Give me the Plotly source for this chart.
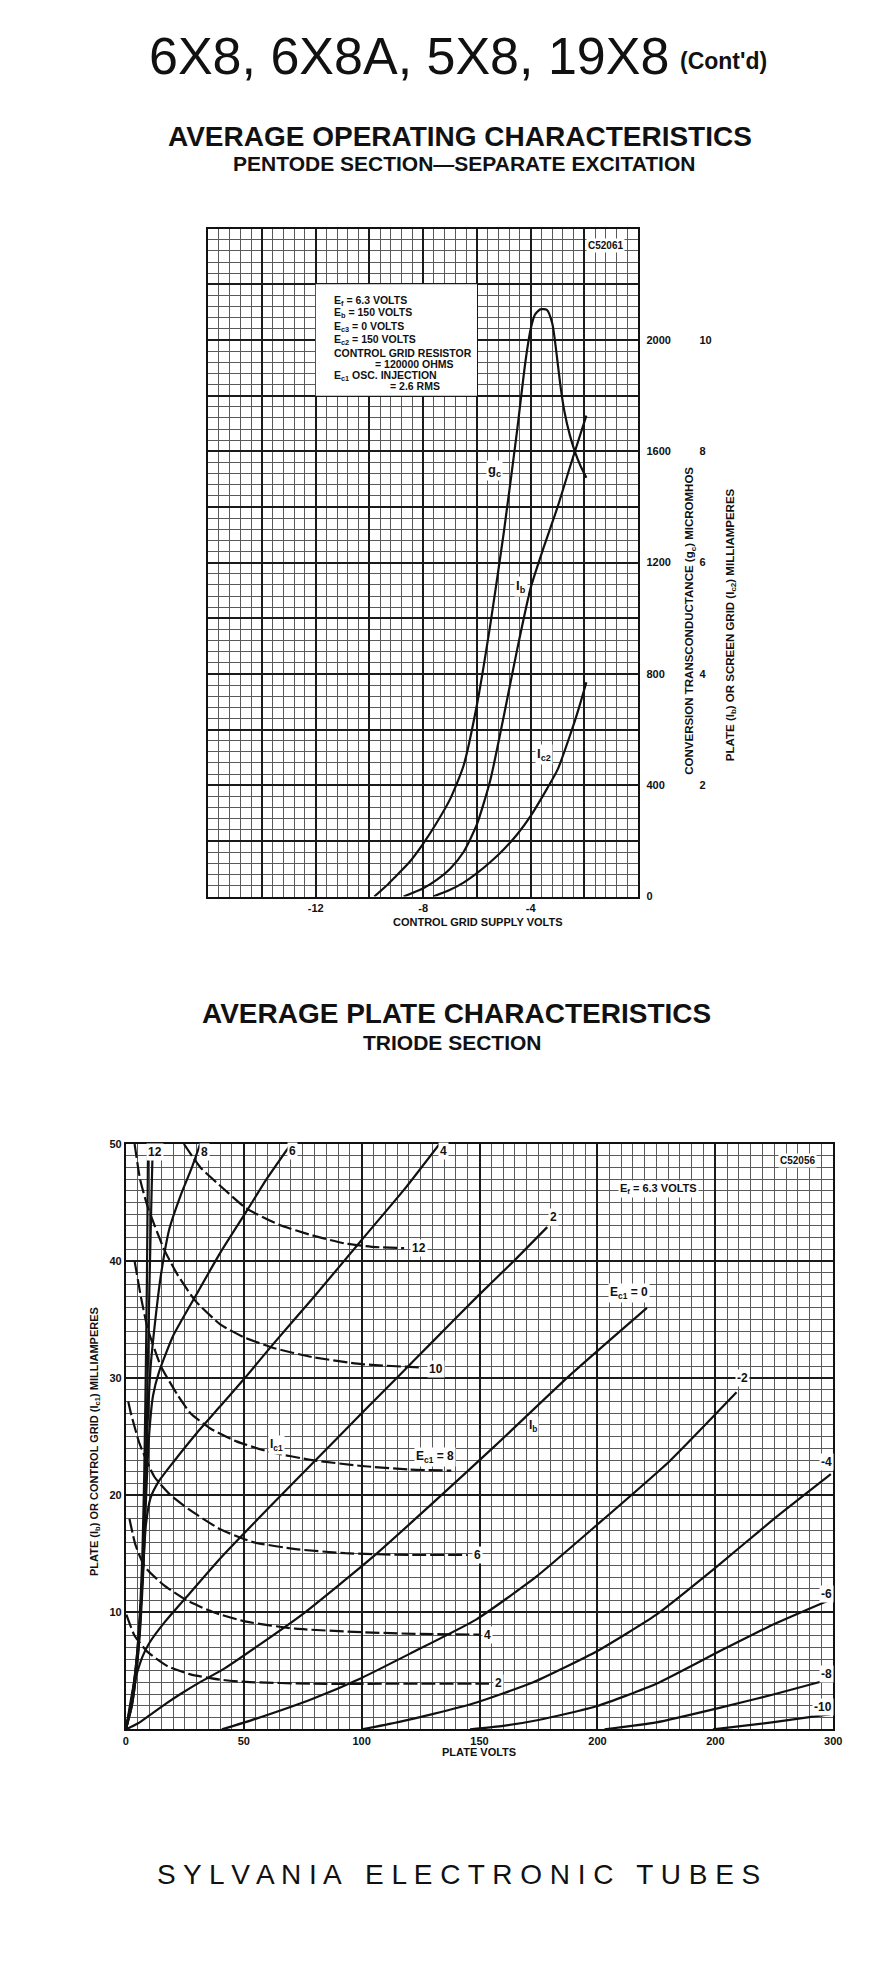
import plotly.graph_objects as go

# the page body keeps its default 8px margin, so the figure is 16px smaller
# than the window and page positions are shifted by that margin
PAGE_W, PAGE_H, PAD = 886, 1968, 8
W, H = PAGE_W - 2 * PAD, PAGE_H - 2 * PAD
SANS = "Liberation Sans, Arial, sans-serif"

# ---- pentode section: values ----
# conversion transconductance (micromhos) vs control grid supply volts
gc_volts = [-9.82, -9.3, -9.0, -8.5, -8.0, -7.5, -7.0, -6.5, -6.0, -5.5, -5.0, -4.5,
            -4.2, -4.0, -3.85, -3.65, -3.4, -3.2, -3.05, -2.9, -2.75, -2.55, -2.36,
            -2.15, -1.93]
gc_umhos = [0, 45, 75, 125, 190, 265, 350, 470, 690, 980, 1310, 1680,
            1920, 2040, 2090, 2110, 2108, 2060, 1960, 1840, 1745, 1660, 1600,
            1548, 1505]
# plate current (mA)
ib_volts = [-8.73, -8.0, -7.5, -7.0, -6.5, -6.0, -5.5, -5.0, -4.5, -4.0, -3.5, -3.0,
            -2.5, -1.93]
ib_ma = [0, 0.15, 0.3, 0.5, 0.8, 1.3, 2.1, 3.25, 4.45, 5.55, 6.3, 7.0, 7.78, 8.64]
# screen grid current (mA)
ic2_volts = [-7.63, -7.0, -6.5, -6.0, -5.5, -5.0, -4.5, -4.0, -3.5, -3.0, -2.5, -2.2,
             -1.93]
ic2_ma = [0, 0.12, 0.25, 0.42, 0.62, 0.85, 1.12, 1.45, 1.85, 2.28, 2.95, 3.4, 3.85]

# grid lines every 2 V / 200 micromhos, only some of them carry a label
grid_volts_ticks = [-16, -14, -12, -10, -8, -6, -4, -2, 0]
grid_volts_text = ["", "", "-12", "", "-8", "", "-4", "", ""]
gc_ticks = [0, 200, 400, 600, 800, 1000, 1200, 1400, 1600, 1800, 2000, 2200, 2400]
gc_text = ["0", "", "400", "", "800", "", "1200", "", "1600", "", "2000", "", ""]
ma_ticks = [2, 4, 6, 8, 10]
ma_text = ["2", "4", "6", "8", "10"]

# ---- triode section: (plate volts, mA) ----
# plate current, one list per control grid voltage
ib_p12 = [(0, 0), (2, 2), (3.5, 4), (5, 7), (6.2, 11), (7, 15), (7.8, 22), (8.4, 30),
          (8.9, 38), (9.2, 45), (9.4, 50)]
ib_p10 = [(0, 0), (2, 2), (3.5, 4), (5.2, 7), (6.5, 11), (7.5, 15), (8.4, 22), (9.2, 30),
          (10, 38), (10.8, 45), (11.4, 50)]
ib_p8 = [(0, 0), (2.5, 2), (4.5, 5), (6, 9), (7.2, 14), (8.2, 20), (9.2, 26), (10.5, 31),
         (12.5, 35), (15, 39), (18.5, 42.8), (23.2, 45.6), (28, 48), (31.5, 50)]
ib_p6 = [(0, 0), (2.5, 2), (4.5, 5), (6.2, 9), (7.5, 14), (8.6, 20), (9.8, 25),
         (11.5, 28.5), (14, 30.5), (20, 33.6), (29.5, 37), (40, 40.7), (51, 44.2),
         (60, 47.1), (70, 50)]
ib_p4 = [(0, 0), (2, 2), (4, 5), (5.8, 9), (7.2, 13.5), (8.5, 17.5), (10.5, 19.8),
         (14, 21.2), (20, 22.8), (30, 25.3), (40, 27.6), (50, 29.9), (62, 32.8),
         (80, 37), (100, 41.8), (118, 46.1), (133, 50)]
ib_p2 = [(0, 0), (1.5, 1.8), (3, 3.5), (4.4, 4.6), (7, 6.2), (10, 7.4), (16.2, 9.1),
         (27.4, 11.7), (40, 14.6), (60, 18.8), (80, 22.9), (100, 27), (115.3, 30.1),
         (130, 33.1), (148.7, 36.9), (165, 40.1), (178.7, 42.9)]
ib_0 = [(0, 0), (5, 0.5), (10, 1.2), (17, 2.2), (23, 3.0), (32, 4.1), (41, 5.1),
        (55, 7.0), (76, 10.0), (104, 14.6), (130, 19.3), (157, 24.3), (187, 30.0),
        (205, 33.2), (221, 36.0)]
ib_m2 = [(40.7, 0), (55, 0.9), (79, 2.6), (100, 4.4), (120.8, 6.5), (148.7, 9.4),
         (173.8, 13.0), (200, 17.5), (230, 22.8), (259, 28.8)]
ib_m4 = [(100, 0), (115, 0.6), (130, 1.3), (148.7, 2.3), (172.5, 4.0), (200, 6.7),
         (225, 9.8), (250, 13.8), (275, 18.0), (299, 21.8)]
ib_m6 = [(146, 0), (160, 0.3), (175, 0.8), (200, 2.0), (225, 3.9), (253, 6.8),
         (275, 9.0), (299, 11.1)]
ib_m8 = [(203, 0), (225, 0.6), (253, 1.9), (275, 3.0), (299, 4.3)]
ib_m10 = [(249, 0), (274, 0.6), (299, 1.3)]

# control grid current, one list per control grid voltage
ic1_p12 = [(24.6, 50), (31.6, 48), (41.3, 46.2), (51.1, 44.5), (65, 43.1), (79, 42.2),
           (93, 41.5), (106, 41.2), (118, 41.1)]
ic1_p10 = [(3.7, 50), (6, 47), (9.3, 44.6), (16.2, 41), (22, 38.8), (29.5, 36.6),
           (40, 34.6), (50, 33.5), (62.3, 32.6), (79, 31.8), (100, 31.2), (126, 30.9)]
ic1_p8 = [(3.7, 40), (6.5, 36.8), (9.3, 34.2), (14.9, 31.0), (21.8, 28.6), (27.4, 27.0),
          (35.8, 25.7), (46.9, 24.6), (60.9, 23.7), (79, 23.0), (100, 22.5), (120, 22.2),
          (138, 22.1)]
ic1_p6 = [(1, 28), (2, 27.1), (5.8, 24.4), (12, 21.6), (19, 20.0), (27.4, 18.7),
          (40, 17.1), (53.9, 16.0), (72, 15.4), (93, 15.05), (120, 14.9), (145, 14.9)]
ic1_p4 = [(1.5, 18), (4, 15.8), (8, 13.9), (16.2, 12.3), (26, 11.0), (37.2, 10.0),
          (51, 9.2), (72, 8.6), (100, 8.3), (125, 8.15), (150, 8.1)]
ic1_p2 = [(0.2, 9.8), (3.7, 8.0), (9.3, 6.6), (17.7, 5.4), (27.4, 4.7), (40, 4.25),
          (51, 4.05), (79, 3.9), (115, 3.9), (154, 3.9)]

plate_x_ticks = [0, 50, 100, 150, 200, 250, 300]
plate_x_text = ["0", "50", "100", "150", "200", "200", "300"]  # misprint kept as on the sheet
plate_y_ticks = [10, 20, 30, 40, 50]
plate_y_text = ["10", "20", "30", "40", "50"]

ib_curves = [ib_p12, ib_p10, ib_p8, ib_p6, ib_p4, ib_p2, ib_0,
             ib_m2, ib_m4, ib_m6, ib_m8, ib_m10]
ic1_curves = [ic1_p12, ic1_p10, ic1_p8, ic1_p6, ic1_p4, ic1_p2]


def px(x):
    # page pixel -> paper fraction
    return (x - PAD) / W


def py(y):
    return 1 - (y - PAD) / H


fig = go.Figure()

line_style = dict(color="#111", width=2.2, shape="spline", smoothing=0.6)
fig.add_trace(go.Scatter(x=gc_volts, y=gc_umhos, mode="lines", line=line_style,
                         xaxis="x", yaxis="y", hoverinfo="skip"))
fig.add_trace(go.Scatter(x=ib_volts, y=ib_ma, mode="lines", line=line_style,
                         xaxis="x", yaxis="y3", hoverinfo="skip"))
fig.add_trace(go.Scatter(x=ic2_volts, y=ic2_ma, mode="lines", line=line_style,
                         xaxis="x", yaxis="y3", hoverinfo="skip"))

for curve in ib_curves:
    xs, ys = zip(*curve)
    fig.add_trace(go.Scatter(x=xs, y=ys, mode="lines", xaxis="x2", yaxis="y2",
                             line=dict(color="#111", width=2.2, shape="spline",
                                       smoothing=0.5),
                             hoverinfo="skip"))
for curve in ic1_curves:
    xs, ys = zip(*curve)
    fig.add_trace(go.Scatter(x=xs, y=ys, mode="lines", xaxis="x2", yaxis="y2",
                             line=dict(color="#111", width=2.2, shape="spline",
                                       smoothing=0.5, dash="14px,4px"),
                             hoverinfo="skip"))

tick_font = dict(family=SANS, size=11, color="#111", weight="bold")
minor_grid = dict(tickmode="linear", tick0=0, showgrid=True, gridcolor="#5a5a5a",
                  gridwidth=1)


def grid_axis(**kw):
    base = dict(showgrid=True, gridcolor="#1a1a1a", gridwidth=1.7,
                showline=True, linecolor="#111", linewidth=2, mirror=True,
                zeroline=False, ticks="", tickmode="array", tickfont=tick_font,
                fixedrange=True)
    base.update(kw)
    return base


fig.update_layout(
    width=W, height=H, autosize=False,
    margin=dict(l=0, r=0, t=0, b=0),
    paper_bgcolor="white", plot_bgcolor="white",
    showlegend=False,
    xaxis=grid_axis(domain=[px(208), px(644)], range=[-16, 0], anchor="y",
                    tickvals=grid_volts_ticks, ticktext=grid_volts_text,
                    minor=dict(minor_grid, dtick=0.4)),
    yaxis=grid_axis(domain=[py(896), py(224)], range=[0, 2400], anchor="x",
                    side="right", tickvals=gc_ticks, ticktext=gc_text,
                    ticklabelstandoff=4, minor=dict(minor_grid, dtick=40)),
    yaxis3=dict(overlaying="y", range=[0, 12], side="right", anchor="free",
                position=px(705), tickmode="array", tickvals=ma_ticks, ticktext=ma_text,
                showgrid=False, zeroline=False, showline=False, ticks="",
                tickfont=tick_font, fixedrange=True),
    xaxis2=grid_axis(domain=[px(124.5), px(841.7)], range=[0, 300], anchor="y2",
                     tickvals=plate_x_ticks, ticktext=plate_x_text,
                     minor=dict(minor_grid, dtick=5)),
    yaxis2=grid_axis(domain=[py(1734), py(1145)], range=[0, 50], anchor="x2",
                     tickvals=plate_y_ticks, ticktext=plate_y_text,
                     minor=dict(minor_grid, dtick=1)),
)

# white block behind the operating conditions of the pentode chart
fig.add_shape(type="rect", xref="x", yref="y", x0=-12, x1=-6, y0=1800, y1=2200,
              fillcolor="white", line_width=0, layer="between")

anns = []


def note(text, x, y, size=11, xref="paper", yref="paper", bold=True, bg=None,
         xanchor="center", yanchor="middle", angle=0, align="center"):
    a = dict(text=text, x=x, y=y, xref=xref, yref=yref, showarrow=False,
             xanchor=xanchor, yanchor=yanchor, textangle=angle, align=align,
             font=dict(family=SANS, size=size, color="#111",
                       weight="bold" if bold else "normal"))
    if bg:
        a.update(bgcolor=bg, borderpad=1)
    anns.append(a)


# page headings
note("6X8, 6X8A, 5X8, 19X8", px(412), py(50), size=52, bold=False)
note("(Cont'd)", px(684), py(55), size=23, xanchor="left")
note("AVERAGE OPERATING CHARACTERISTICS", px(463), py(131), size=28)
note("PENTODE SECTION\u2014SEPARATE EXCITATION", px(467), py(158), size=21)
note("AVERAGE PLATE CHARACTERISTICS", px(460), py(1014), size=28)
note("TRIODE SECTION", px(456), py(1043), size=21)
note("S Y L V A N I A\u00a0\u00a0 E L E C T R O N I C\u00a0\u00a0 T U B E S",
     px(462), py(1880), size=28, bold=False)

# pentode chart texts: operating conditions, one line each
box_lines = [
    ("E<sub>f</sub> = 6.3 VOLTS", -11.40, 2140),
    ("E<sub>b</sub> = 150 VOLTS", -11.40, 2096),
    ("E<sub>c3</sub> = 0 VOLTS", -11.40, 2048),
    ("E<sub>c2</sub> = 150 VOLTS", -11.40, 2000),
    ("CONTROL GRID RESISTOR", -11.40, 1952),
    ("= 120000 OHMS", -9.87, 1912),
    ("E<sub>c1</sub> OSC. INJECTION", -11.40, 1872),
    ("= 2.6 RMS", -9.32, 1834),
]
for text, x, y in box_lines:
    note(text, x, y, size=10.5, xref="x", yref="y", xanchor="left")
note("C52061", -1.2, 2338, size=10, xref="x", yref="y", bg="white")
note("g<sub>c</sub>", -5.36, 1530, size=13, xref="x", yref="y", bg="white")
note("I<sub>b</sub>", -4.36, 1115, size=13, xref="x", yref="y", bg="white")
note("I<sub>c2</sub>", -3.5, 510, size=13, xref="x", yref="y", bg="white")
note("CONTROL GRID SUPPLY VOLTS", px(482), py(922), size=11)
note("CONVERSION TRANSCONDUCTANCE (g<sub>c</sub>) MICROMHOS", px(697), py(618),
     size=11.5, angle=-90)
note("PLATE (I<sub>b</sub>) OR SCREEN GRID (I<sub>c2</sub>) MILLIAMPERES", px(738),
     py(622), size=11.5, angle=-90)

# triode chart texts
for text, x, y in [("12", 12.3, 49.3), ("8", 33.5, 49.3), ("6", 70.5, 49.4),
                   ("4", 134.5, 49.4), ("2", 181.5, 43.8),
                   ("E<sub>c1</sub> = 0", 213.6, 37.3), ("-2", 261.5, 30.0),
                   ("-4", 297.3, 22.8), ("-6", 297.3, 11.6), ("-8", 297.3, 4.7),
                   ("-10", 295.5, 1.9),
                   ("12", 124.5, 41.1), ("10", 131.5, 30.8),
                   ("E<sub>c1</sub> = 8", 131, 23.3), ("6", 149, 14.9),
                   ("4", 153.5, 8.1), ("2", 158, 4.0),
                   ("I<sub>c1</sub>", 63.7, 24.3), ("I<sub>b</sub>", 172.5, 25.9)]:
    note(text, x, y, size=12, xref="x2", yref="y2", bg="white")
note("C52056", 285, 48.6, size=10, xref="x2", yref="y2", bg="white")
note("E<sub>f</sub> = 6.3 VOLTS", 226, 46.2, size=11, xref="x2", yref="y2", bg="white")
note("PLATE VOLTS", px(483), py(1757), size=11)
note("PLATE (I<sub>b</sub>) OR CONTROL GRID (I<sub>c1</sub>) MILLIAMPERES", px(93),
     py(1444), size=11, angle=-90)

fig.update_layout(annotations=anns)

fig.write_html("out.html")
